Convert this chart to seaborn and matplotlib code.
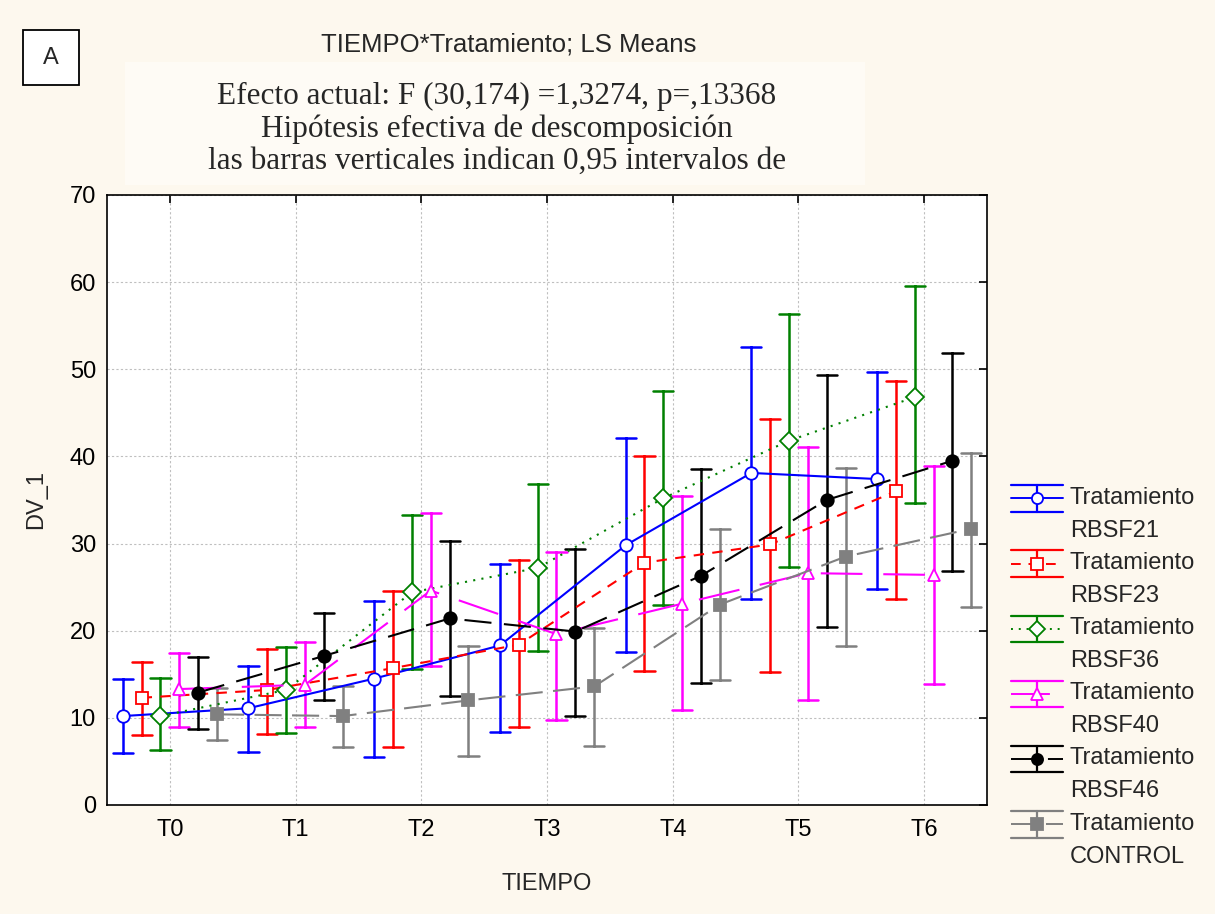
import matplotlib
matplotlib.use("Agg")
import matplotlib.pyplot as plt
import numpy as np
import pandas as pd
import seaborn as sns
from matplotlib.legend_handler import HandlerBase
from matplotlib.lines import Line2D
from matplotlib.patches import Rectangle

TIMES = ["T0", "T1", "T2", "T3", "T4", "T5", "T6"]
TREATMENTS = ["RBSF21", "RBSF23", "RBSF36", "RBSF40", "RBSF46", "CONTROL"]

# LS means and 0.95 interval limits
mean_rbsf21 = [10.2, 11.1, 14.5, 18.3, 29.8, 38.1, 37.4]
low_rbsf21 = [6.0, 6.1, 5.5, 8.4, 17.6, 23.6, 24.8]
high_rbsf21 = [14.4, 15.9, 23.4, 27.6, 42.1, 52.5, 49.7]

mean_rbsf23 = [12.3, 13.2, 15.7, 18.4, 27.8, 29.9, 36.0]
low_rbsf23 = [8.0, 8.1, 6.7, 8.9, 15.4, 15.3, 23.6]
high_rbsf23 = [16.4, 17.9, 24.5, 28.1, 40.0, 44.3, 48.6]

mean_rbsf36 = [10.2, 13.2, 24.4, 27.2, 35.2, 41.8, 46.8]
low_rbsf36 = [6.3, 8.3, 15.6, 17.7, 23.0, 27.3, 34.6]
high_rbsf36 = [14.6, 18.1, 33.3, 36.8, 47.5, 56.3, 59.5]

mean_rbsf40 = [13.3, 13.8, 24.6, 19.6, 23.1, 26.6, 26.4]
low_rbsf40 = [9.0, 9.0, 16.0, 9.8, 10.9, 12.1, 13.9]
high_rbsf40 = [17.4, 18.7, 33.5, 29.0, 35.5, 41.1, 38.9]

mean_rbsf46 = [12.9, 17.1, 21.4, 19.9, 26.3, 35.0, 39.5]
low_rbsf46 = [8.7, 12.1, 12.5, 10.2, 14.0, 20.4, 26.9]
high_rbsf46 = [17.0, 22.0, 30.3, 29.4, 38.5, 49.3, 51.9]

mean_control = [10.4, 10.2, 12.0, 13.6, 23.0, 28.5, 31.7]
low_control = [7.4, 6.6, 5.6, 6.8, 14.3, 18.2, 22.7]
high_control = [13.4, 13.6, 18.2, 20.3, 31.7, 38.7, 40.4]

COLORS = ["#0000ff", "#ff0000", "#008000", "#ff00ff", "#000000", "#808080"]
MARKERS = ["o", "s", "D", "^", "o", "s"]
OPEN = [True, True, True, True, False, False]
LINESTYLES = ["-", (0, (5, 4)), (0, (1, 3)), (0, (20, 10)), (0, (13, 6)), (0, (13, 5))]

series = {
    "RBSF21": (mean_rbsf21, low_rbsf21, high_rbsf21),
    "RBSF23": (mean_rbsf23, low_rbsf23, high_rbsf23),
    "RBSF36": (mean_rbsf36, low_rbsf36, high_rbsf36),
    "RBSF40": (mean_rbsf40, low_rbsf40, high_rbsf40),
    "RBSF46": (mean_rbsf46, low_rbsf46, high_rbsf46),
    "CONTROL": (mean_control, low_control, high_control),
}

# long table: each cell holds low / mean / high, so median = LS mean and
# min/max = interval limits
rows = []
for name, (mean, low, high) in series.items():
    for t, m, lo, hi in zip(TIMES, mean, low, high):
        for v in (lo, m, hi):
            rows.append({"TIEMPO": t, "DV_1": v, "Tratamiento": name})
df = pd.DataFrame(rows)


class StatisticaHandler(HandlerBase):
    """Legend key: two full-width caps, a vertical bar and the series line."""

    def __init__(self, shift=0.0, half=9.0, **kw):
        super().__init__(**kw)
        self.shift = shift
        self.half = half

    def create_artists(self, legend, orig_handle, xdescent, ydescent,
                       width, height, fontsize, trans):
        x0, x1 = -xdescent, width - xdescent
        xc = (x0 + x1) / 2
        yc = height / 2 - ydescent + self.shift
        col = orig_handle.get_color()
        lw = 1.6
        top = Line2D([x0, x1], [yc + self.half] * 2, color=col, lw=lw)
        bot = Line2D([x0, x1], [yc - self.half] * 2, color=col, lw=lw)
        vert = Line2D([xc, xc], [yc - self.half, yc + self.half], color=col, lw=lw)
        mid = Line2D([x0, x1], [yc, yc])
        mid.update_from(orig_handle)
        mid.set_marker("None")
        mk = Line2D([xc], [yc], marker=orig_handle.get_marker(), markersize=8,
                    markerfacecolor=orig_handle.get_markerfacecolor(),
                    markeredgecolor=col, markeredgewidth=1.3, linestyle="none")
        arts = [top, bot, vert, mid, mk]
        for a in arts:
            a.set_transform(trans)
        return arts


sns.set_theme(style="white")
plt.rcParams["font.family"] = ["Liberation Sans", "DejaVu Sans"]

BG = "#fdf8ee"
fig = plt.figure(figsize=(12.15, 9.14), dpi=100, facecolor=BG)
fig.patches.append(Rectangle((0.103, 0.7976), 0.609, 0.1346, transform=fig.transFigure,
                             facecolor="#fefbf5", edgecolor="none", zorder=0))
ax = fig.add_axes([0.0881, 0.1193, 0.7243, 0.6674])
ax.set_facecolor("white")

sns.pointplot(
    data=df, x="TIEMPO", y="DV_1", hue="Tratamiento",
    order=TIMES, hue_order=TREATMENTS,
    estimator="median", errorbar=lambda v: (v.min(), v.max()),
    dodge=0.75, palette=COLORS, markers=MARKERS, linestyles=LINESTYLES,
    capsize=0.16, err_kws={"linewidth": 1.8, "linestyle": "-"},
    linewidth=1.5, markersize=9, legend=False, ax=ax,
)

main_lines = [ln for ln in ax.lines if ln.get_marker() not in ("None", "", None)]
for ln, col, hollow in zip(main_lines, COLORS, OPEN):
    ln.set_zorder(4)
    ln.set_markeredgecolor(col)
    ln.set_markeredgewidth(1.3)
    ln.set_markerfacecolor("white" if hollow else col)

ax.set_xlim(-0.5, 6.5)
ax.set_ylim(0, 70)
ax.set_yticks(range(0, 71, 10))
ax.grid(True, color="#bfbfbf", linestyle=(0, (2, 2)), linewidth=0.8)
for s in ax.spines.values():
    s.set_color("black")
    s.set_linewidth(1.2)
ax.tick_params(direction="in", length=6, width=1.2, top=True, right=True,
               labelsize=17, colors="black")
ax.tick_params(axis="x", pad=10)
ax.tick_params(axis="y", pad=8)
ax.set_xlabel("TIEMPO", fontsize=17, labelpad=23)
ax.set_ylabel("DV_1", fontsize=17, labelpad=16)

# legend proxies
handles = [
    Line2D([], [], color=col, marker=mk, linestyle=ls, linewidth=1.4,
           markerfacecolor="white" if hollow else col, label=f"Tratamiento\n{name}")
    for name, col, mk, hollow, ls in zip(TREATMENTS, COLORS, MARKERS, OPEN, LINESTYLES)
]
leg = fig.legend(handles=handles, loc="upper left", bbox_to_anchor=(0.824, 0.478),
                 frameon=False, fontsize=17, handlelength=2.2, handletextpad=0.3,
                 labelspacing=0.43, borderaxespad=0,
                 handler_map={Line2D: StatisticaHandler(shift=11.5, half=9.5)})
for t in leg.get_texts():
    t.set_linespacing(1.65)

fig.text(0.419, 0.951, "TIEMPO*Tratamiento; LS Means", ha="center", va="center", fontsize=18.5)
fig.text(0.409, 0.859,
         "Efecto actual: F (30,174) =1,3274, p=,13368\n"
         "Hipótesis efectiva de descomposición\n"
         "las barras verticales indican 0,95 intervalos de",
         ha="center", va="center", fontsize=22.5, family="Liberation Serif", linespacing=1.13)

fig.patches.append(Rectangle((0.0189, 0.907), 0.0461, 0.060, transform=fig.transFigure,
                             facecolor="white", edgecolor="black", linewidth=1.3))
fig.text(0.042, 0.9365, "A", ha="center", va="center", fontsize=17)

fig.savefig("out.png", dpi=100, facecolor=BG)
